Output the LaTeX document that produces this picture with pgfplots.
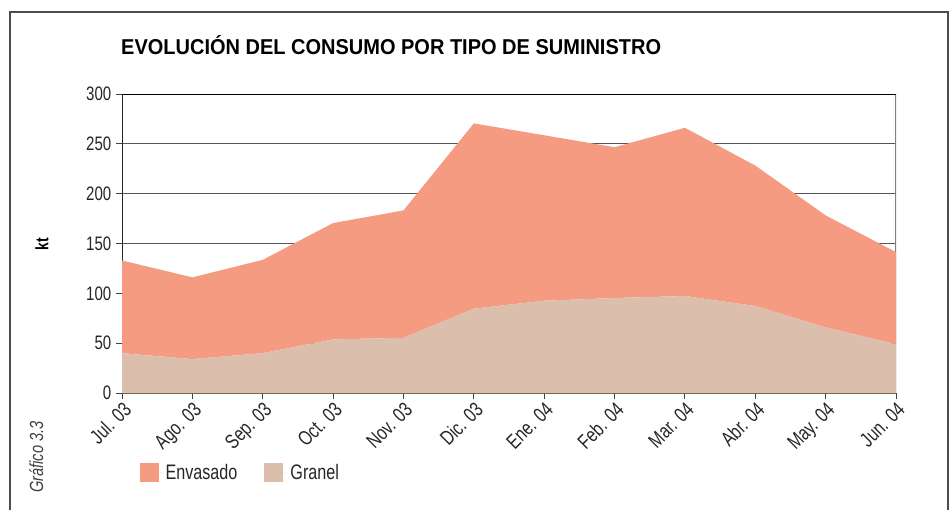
\documentclass[border=0pt]{standalone}
\usepackage{fontspec}
\setmainfont{Liberation Sans}[FakeStretch=0.77]
\newfontfamily\titlefont{Liberation Sans}[FakeStretch=0.93]
\usepackage{pgfplots}
\pgfplotsset{compat=1.18}
\definecolor{envasado}{HTML}{F49B81}
\definecolor{granel}{HTML}{DCBEAD}
\definecolor{gridc}{HTML}{555555}
\begin{document}
\begin{tikzpicture}
\path[use as bounding box] (0,0) rectangle (952pt,-510pt);
\draw[line width=1.5pt, color=black!70] (10pt,-520pt) -- (10pt,-12pt) -- (948pt,-12pt) -- (948pt,-520pt);
\node[anchor=base west, inner sep=0pt, font=\titlefont\bfseries\fontsize{21.5}{24}\selectfont] at (121pt,-55pt) {EVOLUCIÓN DEL CONSUMO POR TIPO DE SUMINISTRO};
\node[anchor=base west, inner sep=0pt, rotate=90, text=black!75, font=\itshape\fontsize{19}{22}\selectfont] at (43pt,-493pt) {Gráfico 3.3};
\node[anchor=center, inner sep=0pt, rotate=90, font=\bfseries\fontsize{18}{20}\selectfont] at (42pt,-244pt) {kt};
\begin{axis}[
  at={(122pt,-393pt)}, anchor=south west,
  scale only axis, width=774pt, height=299pt,
  xmin=0, xmax=11, ymin=0, ymax=300,
  stack plots=y,
  xtick={0,...,11},
  xticklabels={Jul. 03,Ago. 03,Sep. 03,Oct. 03,Nov. 03,Dic. 03,Ene. 04,Feb. 04,Mar. 04,Abr. 04,May. 04,Jun. 04},
  ytick={0,50,...,300},
  /pgf/number format/assume math mode=true,
  tick align=outside, xtick pos=bottom, ytick pos=left,
  major tick length=6pt,
  tick style={color=black!75, line width=1pt},
  axis line style={draw=none},
  ymajorgrids, grid style={color=gridc, line width=0.9pt},
  yticklabel style={font=\fontsize{19.5}{21}\selectfont, text=black!85, inner sep=4.5pt},
  xticklabel style={font=\fontsize{20.5}{22}\selectfont, text=black!85, rotate=45, anchor=north east, inner sep=1pt},
  legend style={at={(axis description cs:0.0185,-0.266)}, anchor=west, draw=none, fill=none,
    font=\fontsize{21}{24}\selectfont, text=black!85, /tikz/every even column/.append style={column sep=25pt}},
  legend columns=2, reverse legend,
  legend image code/.code={\path (0pt,0pt) -- (24pt,0pt); \fill[#1] (0pt,-9.5pt) rectangle (19pt,9.5pt);},
]
\addplot[fill=granel, draw=none] coordinates {(0,40) (1,34) (2,40) (3,53.8) (4,55.4) (5,84.6) (6,92.6) (7,95.3) (8,97.3) (9,87.3) (10,65.8) (11,49)} \closedcycle;
\addlegendentry{Granel}
\addplot[fill=envasado, draw=none] coordinates {(0,93) (1,82) (2,93.6) (3,116.7) (4,127.8) (5,185.9) (6,166) (7,151.3) (8,168.8) (9,140.9) (10,112.4) (11,92.3)} \closedcycle;
\addlegendentry{Envasado}
\draw[black, line width=1.4pt] (rel axis cs:0,1) -- (rel axis cs:1,1);
\draw[black!50, line width=1.4pt] (rel axis cs:1,0) -- (rel axis cs:1,1);
\draw[black!85, line width=1.4pt] (rel axis cs:0,0) -- (rel axis cs:0,1);
\draw[black!65, line width=2.2pt] (rel axis cs:0,0) -- (rel axis cs:1,0);
\end{axis}
\end{tikzpicture}
\end{document}
